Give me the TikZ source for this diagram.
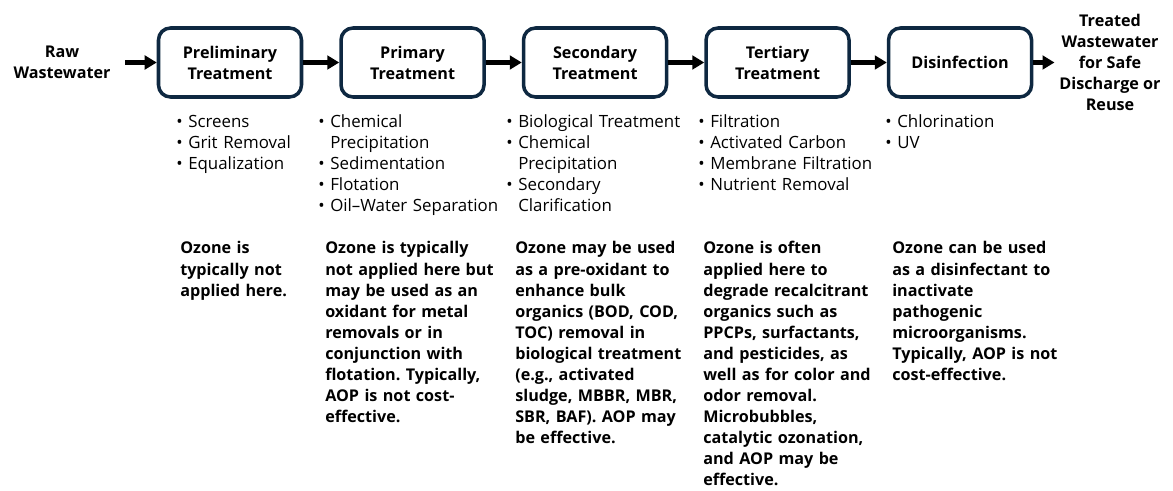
\documentclass[tikz,border=0pt]{standalone}
\usepackage{fontspec}
\setmainfont{Open Sans}
\usetikzlibrary{arrows.meta, positioning}
\definecolor{navy}{HTML}{0E2841}
\newcommand{\dfont}{\fontsize{12}{15}\selectfont}
\newcommand{\bfont}{\fontsize{11.5}{15}\selectfont\bfseries}
\newcommand{\itm}{\makebox[0.3cm][l]{\textbullet}}
\newcommand{\cnt}{\hspace*{0.3cm}}
\frenchspacing

\begin{document}
\begin{tikzpicture}[
		stage/.style={draw=navy, line width=2.5pt, rounded corners=0.3cm, fill=white, minimum width=3.575cm, minimum height=1.725cm, align=center, font=\bfont},
		endlabel/.style={align=center, font=\bfont},
		steps/.style={anchor=base west, text width=4.6cm, align=left, inner sep=0pt, font=\dfont},
		note/.style={anchor=base west, text width=4.6cm, align=left, inner sep=0pt, font=\bfont},
		flow/.style={-{Triangle[length=0.3cm, width=0.34cm]}, line width=3pt}
		]
		
		\useasboundingbox (0,0) rectangle (29.325,-12.275);
		
		% treatment train
		\node[endlabel] (raw) at (1.55,-1.5625) {Raw\\Wastewater};
		\node[stage] (prelim) at (5.75,-1.5625) {Preliminary\\Treatment};
		\node[stage, right=0.9cm of prelim] (primary) {Primary\\Treatment};
		\node[stage, right=0.9cm of primary] (secondary) {Secondary\\Treatment};
		\node[stage, right=0.9cm of secondary] (tertiary) {Tertiary\\Treatment};
		\node[stage, right=0.9cm of tertiary] (disinf) {Disinfection};
		\node[endlabel] (treated) at (27.75,-1.5625) {Treated\\Wastewater\\for Safe\\Discharge or\\Reuse};
		
		\draw[flow, shorten <=0.25cm] (raw) -- (prelim);
		\draw[flow] (prelim) -- (primary);
		\draw[flow] (primary) -- (secondary);
		\draw[flow] (secondary) -- (tertiary);
		\draw[flow] (tertiary) -- (disinf);
		\draw[flow] (disinf) -- (treated);
		
		% unit operations
		\node[steps] (prelimlist) at (4.4,-3.19) {\itm Screens\\\itm Grit Removal\\\itm Equalization};
		\node[steps] (primarylist) at (7.95,-3.19) {\itm Chemical\\\cnt Precipitation\\\itm Sedimentation\\\itm Flotation\\\itm Oil--Water Separation};
		\node[steps] (secondarylist) at (12.65,-3.19) {\itm Biological Treatment\\\itm Chemical\\\cnt Precipitation\\\itm Secondary\\\cnt Clarification};
		\node[steps] (tertiarylist) at (17.45,-3.19) {\itm Filtration\\\itm Activated Carbon\\\itm Membrane Filtration\\\itm Nutrient Removal};
		\node[steps] (disinflist) at (22.125,-3.19) {\itm Chlorination\\\itm UV};
		
		% ozone notes
		\node[note] (prelimnote) at (4.5,-6.35) {Ozone is\\typically not\\applied here.};
		\node[note] (primarynote) at (8.125,-6.35) {Ozone is typically\\not applied here but\\may be used as an\\oxidant for metal\\removals or in\\conjunction with\\flotation. Typically,\\AOP is not cost-\\effective.};
		\node[note] (secondarynote) at (12.875,-6.35) {Ozone may be used\\as a pre-oxidant to\\enhance bulk\\organics (BOD, COD,\\TOC) removal in\\biological treatment\\(e.g., activated\\sludge, MBBR, MBR,\\SBR, BAF). AOP may\\be effective.};
		\node[note] (tertiarynote) at (17.575,-6.35) {Ozone is often\\applied here to\\degrade recalcitrant\\organics such as\\PPCPs, surfactants,\\and pesticides, as\\well as for color and\\odor removal.\\Microbubbles,\\catalytic ozonation,\\and AOP may be\\effective.};
		\node[note] (disinfnote) at (22.3,-6.35) {Ozone can be used\\as a disinfectant to\\inactivate\\pathogenic\\microorganisms.\\Typically, AOP is not\\cost-effective.};
		
	\end{tikzpicture}
\end{document}
